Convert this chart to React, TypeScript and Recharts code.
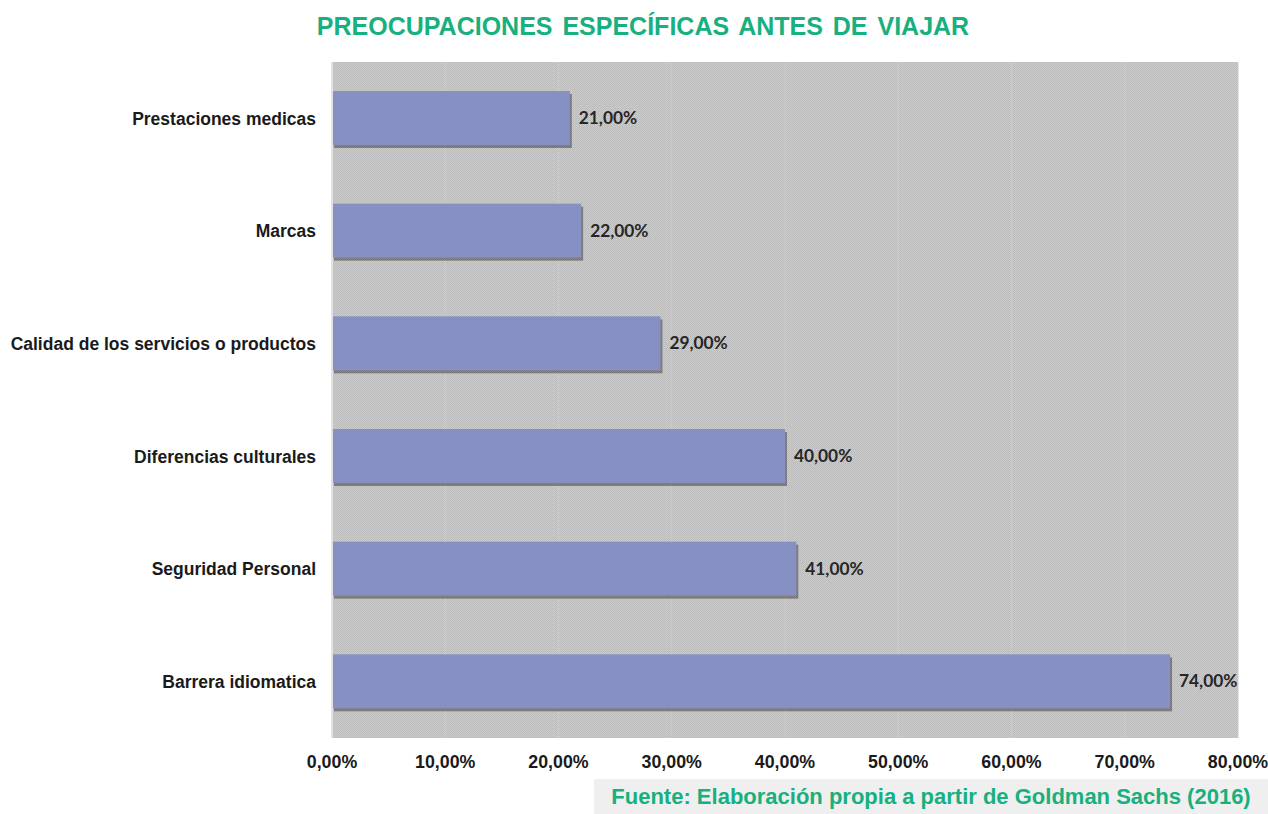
import React from "react";
import { BarChart, Bar, XAxis, YAxis, CartesianGrid, LabelList } from "recharts";

const categories = [
  "Prestaciones medicas",
  "Marcas",
  "Calidad de los servicios o productos",
  "Diferencias culturales",
  "Seguridad Personal",
  "Barrera idiomatica",
];
const values = [0.21, 0.22, 0.29, 0.4, 0.41, 0.74];
const xTicks = [0, 0.1, 0.2, 0.3, 0.4, 0.5, 0.6, 0.7, 0.8];

const data = categories.map((name, i) => ({ name, value: values[i] }));

const fmt = (v: number) => (v * 100).toFixed(2).replace(".", ",") + "%";

const GREEN = "#17B07E";
const FONT = "'Liberation Sans', Arial, sans-serif";

const BarShape = (props: any) => {
  const { x, y, width, height } = props;
  return (
    <g>
      <rect x={x + 2} y={y + 3} width={width} height={height} fill="rgba(40,40,40,0.45)" />
      <rect x={x} y={y} width={width} height={height} fill="#8690C2" />
    </g>
  );
};

export default function App() {
  return (
    <div style={{ position: "absolute", left: 0, top: 0, width: 1268, height: 814, overflow: "hidden", background: "#fff", fontFamily: FONT }}>
      <svg width={0} height={0} style={{ position: "absolute" }}>
        <defs>
          <pattern id="chk" width={2} height={2} patternUnits="userSpaceOnUse">
            <rect x={0} y={0} width={2} height={2} fill="#CDCDCD" />
            <rect x={0} y={0} width={1} height={1} fill="#BABABA" />
            <rect x={1} y={1} width={1} height={1} fill="#BABABA" />
          </pattern>
        </defs>
      </svg>
      <div
        style={{
          position: "absolute",
          left: 0,
          width: 1286,
          top: 12,
          textAlign: "center",
          color: GREEN,
          fontWeight: "bold",
          fontSize: 25,
          wordSpacing: 3,
          whiteSpace: "nowrap",
        }}
      >
        PREOCUPACIONES ESPECÍFICAS ANTES DE VIAJAR
      </div>
      <BarChart
        width={1268}
        height={814}
        data={data}
        layout="vertical"
        margin={{ top: 62, right: 30, bottom: 0, left: 0 }}
        barSize={54}
      >
        <CartesianGrid horizontal={false} vertical={true} stroke="#cbcbcb" fill="url(#chk)" fillOpacity={1} />
        <XAxis
          type="number"
          domain={[0, 0.8]}
          ticks={xTicks}
          tickFormatter={fmt}
          axisLine={false}
          tickLine={false}
          height={76}
          tickMargin={11}
          tick={{ fill: "#1a1a1a", fontSize: 17.8, fontWeight: "bold", fontFamily: FONT }}
        />
        <YAxis
          type="category"
          dataKey="name"
          width={332}
          axisLine={{ stroke: "#e2e2e2", strokeWidth: 2 }}
          tickLine={false}
          tickSize={0}
          tickMargin={16}
          tick={{ fill: "#1a1a1a", fontSize: 17.5, fontWeight: "bold", fontFamily: FONT }}
        />
        <Bar dataKey="value" isAnimationActive={false} shape={<BarShape />}>
          <LabelList
            dataKey="value"
            position="right"
            offset={9}
            formatter={(v: any) => fmt(Number(v))}
            style={{ fill: "#262626", fontSize: 17.3, fontWeight: "bold", fontFamily: "Lato, sans-serif" }}
          />
        </Bar>
      </BarChart>
      <div
        style={{
          position: "absolute",
          left: 594,
          top: 779,
          width: 674,
          height: 35,
          background: "#EFEFEF",
        }}
      />
      <div
        style={{
          position: "absolute",
          left: 594,
          top: 779,
          width: 674,
          height: 35,
          lineHeight: "35px",
          textAlign: "center",
          color: GREEN,
          fontWeight: "bold",
          fontSize: 22,
          whiteSpace: "nowrap",
        }}
      >
        Fuente: Elaboración propia a partir de Goldman Sachs (2016)
      </div>
    </div>
  );
}
